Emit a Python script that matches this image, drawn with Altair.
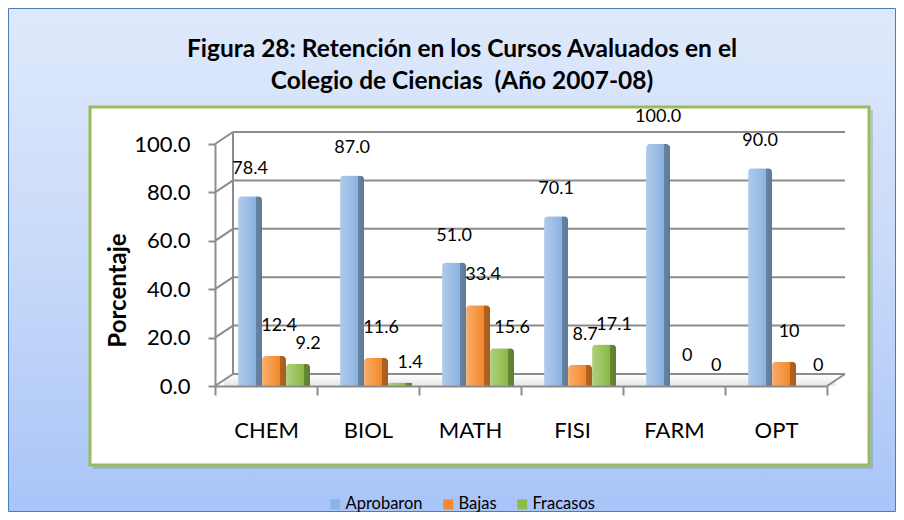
import altair as alt
import pandas as pd

# ---- data ----
cats = ["CHEM", "BIOL", "MATH", "FISI", "FARM", "OPT"]
series = ["Aprobaron", "Bajas", "Fracasos"]
aprobaron = [78.4, 87.0, 51.0, 70.1, 100.0, 90.0]
bajas = [12.4, 11.6, 33.4, 8.7, 0, 10]
fracasos = [9.2, 1.4, 15.6, 17.1, 0, 0]
ticks = [0, 20, 40, 60, 80, 100]
colors = ["#8db4e2", "#f58a2c", "#8dbb47"]
title_l1 = "Figura 28: Retención en los Cursos Avaluados en el"
title_l2 = "Colegio de Ciencias \u00a0(Año 2007-08)"
y_title = "Porcentaje"

rows = []
for s, vals in zip(series, [aprobaron, bajas, fracasos]):
    for c, v in zip(cats, vals):
        rows.append({"cat": c, "series": s, "value": v})
df = pd.DataFrame(rows)
tick_df = pd.DataFrame({"value": ticks})
one = pd.DataFrame({"k": [0]})

W, H = 612, 242
PL, PT = 207, 136
TOTW, TOTH = 888, 504
FONT = "Lato"
GRID = "#8c8c8c"

yscale = alt.Scale(domain=[0, 100], nice=False, zero=True)
xscale = alt.Scale(domain=cats, paddingInner=0, paddingOuter=0)
xoff_scale = alt.Scale(domain=series, paddingInner=0, paddingOuter=0.625, align=0.77)

y_axis = alt.Axis(
    values=ticks, format=".1f", labelFont=FONT, labelFontSize=22, labelColor="black",
    labelPadding=18, tickSize=7, tickColor=GRID, tickWidth=2, domainColor=GRID,
    domainWidth=2, grid=False, title=y_title, titleFont=FONT, titleFontSize=24,
    titleFontWeight="bold", titleColor="black", titleX=-97, titleY=146,
    titleAngle=270, titleAlign="center", titleBaseline="middle", zindex=1)
x_axis = alt.Axis(
    title=None, labelFont=FONT, labelFontSize=22, labelColor="black", labelAngle=0,
    labelPadding=25, tickSize=9, tickColor=GRID, tickWidth=2, domainColor=GRID,
    domainWidth=2, tickBand="extent", grid=False, zindex=1)

GS = alt.GradientStop
panel_grad = alt.Gradient(gradient="linear", x1=0, x2=0, y1=0, y2=1,
                          stops=[GS(color="#dfe9fb", offset=0),
                                 GS(color="#c8daf9", offset=0.5),
                                 GS(color="#a8c4f8", offset=1)])

panel = alt.Chart(one).mark_rect(fill=panel_grad, stroke="#4a7ebb", strokeWidth=1).encode(
    x=alt.value(-PL + 0.5), x2=alt.value(TOTW - PL - 0.5),
    y=alt.value(-PT + 0.5), y2=alt.value(TOTH - PT - 0.5))

shadow = alt.Chart(one).mark_rect(fill="#6f7f99", opacity=0.3).encode(
    x=alt.value(-122), x2=alt.value(658), y=alt.value(-34), y2=alt.value(325))
inner = alt.Chart(one).mark_rect(fill="white", stroke="#9bbb59", strokeWidth=3).encode(
    x=alt.value(-125), x2=alt.value(654), y=alt.value(-37), y2=alt.value(321))

floor_grad = alt.Gradient(gradient="linear", x1=0, x2=0, y1=0, y2=1,
                          stops=[GS(color="#ffffff", offset=0),
                                 GS(color="#e6e6e6", offset=1)])
floor = alt.Chart(one).mark_rect(fill=floor_grad).encode(
    x=alt.value(9), x2=alt.value(W + 9), y=alt.value(H - 12), y2=alt.value(H))

y_enc = alt.Y("value:Q", scale=yscale, axis=y_axis)
x_enc = alt.X("cat:N", scale=xscale, sort=cats, axis=x_axis)
xo_enc = alt.XOffset("series:N", scale=xoff_scale, sort=series)

grid = alt.Chart(tick_df).mark_rule(color=GRID, strokeWidth=2, yOffset=-12).encode(
    y=y_enc, x=alt.value(18), x2=alt.value(630))
diag = alt.Chart(tick_df).mark_rule(color=GRID, strokeWidth=2, y2Offset=-12).encode(
    y=y_enc, y2=alt.Y2("value"), x=alt.value(0), x2=alt.value(18))
back_v = alt.Chart(one).mark_rule(color=GRID, strokeWidth=2).encode(
    x=alt.value(18), y=alt.value(-12), y2=alt.value(H - 12))
right_d = alt.Chart(one).mark_rule(color=GRID, strokeWidth=2).encode(
    x=alt.value(W), x2=alt.value(W + 18), y=alt.value(H), y2=alt.value(H - 12))

bars = alt.Chart(df).mark_bar(cornerRadiusTopLeft=4, cornerRadiusTopRight=4).encode(
    x=x_enc, xOffset=xo_enc, y=y_enc,
    color=alt.Color("series:N", scale=alt.Scale(domain=series, range=colors),
                    sort=series,
                    legend=alt.Legend(title=None, orient="none", legendX=112, legendY=352,
                                      direction="horizontal", symbolType="square",
                                      symbolSize=100, labelFont=FONT, labelFontSize=16.5,
                                      labelColor="black", columnPadding=17,
                                      labelOffset=2, symbolStrokeWidth=0, zindex=1)))

shade = alt.Gradient(gradient="linear", x1=0, x2=1, y1=0, y2=0,
                     stops=[GS(color="rgba(255,255,255,0.30)", offset=0),
                            GS(color="rgba(255,255,255,0.05)", offset=0.6),
                            GS(color="rgba(0,0,0,0.0)", offset=0.73),
                            GS(color="rgba(0,0,0,0.28)", offset=0.76),
                            GS(color="rgba(0,0,0,0.33)", offset=1)])
overlay = alt.Chart(df).mark_bar(fill=shade, cornerRadiusTopLeft=4, cornerRadiusTopRight=4).encode(
    x=x_enc, xOffset=xo_enc, y=y_enc)


def labels(s, dx, dy, fmt):
    return alt.Chart(df).transform_filter(alt.datum.series == s).mark_text(
        dx=dx, dy=dy, fontSize=18, font=FONT, color="black", baseline="middle").encode(
        x=x_enc, xOffset=xo_enc, y=y_enc,
        text=alt.Text("value:Q", format=fmt))


lab_a = labels("Aprobaron", 0, -27, ".1f")
lab_b = labels("Bajas", 5, -30, "~g")
lab_c = labels("Fracasos", 10, -20, "~g")

t1 = alt.Chart(one).mark_text(text=title_l1, font=FONT, fontSize=24.5, fontWeight="bold",
                              color="black", align="center", baseline="middle").encode(
    x=alt.value(462 - 215), y=alt.value(50 - 144))
t2 = alt.Chart(one).mark_text(text=title_l2, font=FONT, fontSize=24.5, fontWeight="bold",
                              color="black", align="center", baseline="middle").encode(
    x=alt.value(462 - 215), y=alt.value(82 - 144))

chart = alt.layer(panel, shadow, inner, floor, grid, diag, back_v, right_d, bars, overlay,
                  lab_a, lab_b, lab_c, t1, t2).properties(
    width=W, height=H,
    autosize=alt.AutoSizeParams(type="none"),
    padding={"left": PL, "top": PT, "right": TOTW - PL - W, "bottom": TOTH - PT - H},
).configure_view(stroke=None).configure(background="white")

chart.save("out.html", embed_options={"renderer": "svg", "actions": False})
